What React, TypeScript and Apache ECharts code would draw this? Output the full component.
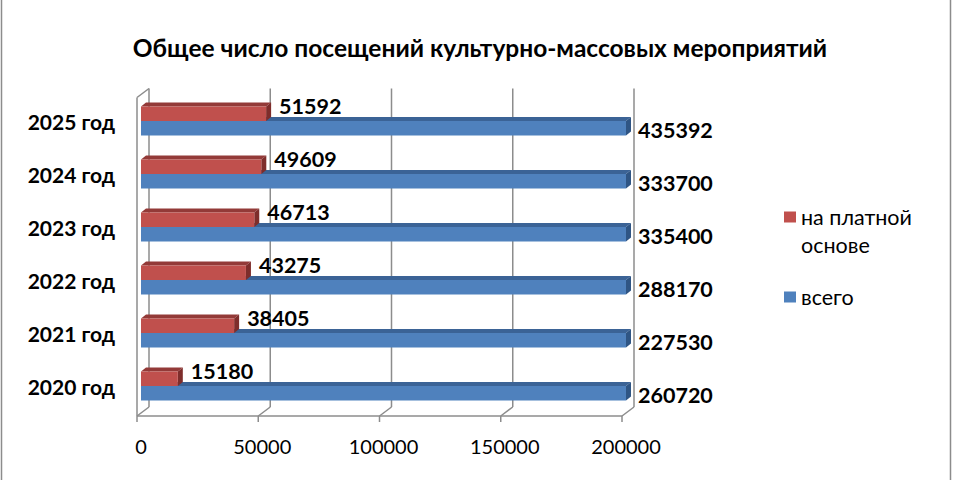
import React, { useEffect, useRef } from "react";
import * as echarts from "echarts";

const titleText = "Общее число посещений культурно-массовых мероприятий";
const categories = ["2020 год", "2021 год", "2022 год", "2023 год", "2024 год", "2025 год"];
const paidValues = [15180, 38405, 43275, 46713, 49609, 51592];
const totalValues = [260720, 227530, 288170, 335400, 333700, 435392];
const xTicks = [0, 50000, 100000, 150000, 200000];
const seriesNames = ["на платной основе", "всего"];

const X_MAX = xTicks[xTicks.length - 1];
const X_STEP = xTicks[1] - xTicks[0];
const FONT = "Lato, 'Noto Sans', sans-serif";

const RED = { front: "#C0504D", top: "#933A38", side: "#7E2D2B" };
const BLUE = { front: "#4F81BD", top: "#3B6396", side: "#2F5584" };

function makeBarRenderer(isUpper: boolean, c: { front: string; top: string; side: string }) {
  return (params: any, api: any) => {
    const v = api.value(0) as number;
    const cat = api.value(1) as number;
    const band = (api.size([0, 1]) as number[])[1];
    const h = band * 0.275;
    const p0 = api.coord([0, cat]);
    const p1 = api.coord([Math.min(v, X_MAX), cat]);
    const x0 = p0[0];
    const cy = p0[1];
    const x1 = p1[0];
    const yTop = isUpper ? cy - h : cy;
    const dx = 5;
    const dy = 4;
    const labelY = isUpper ? yTop : yTop + h / 2 + 1.5;
    const labelX = x1 + dx + (isUpper ? 8 : 7);
    return {
      type: "group",
      children: [
        {
          type: "polygon",
          shape: { points: [[x0, yTop], [x0 + dx, yTop - dy], [x1 + dx, yTop - dy], [x1, yTop]] },
          style: { fill: c.top },
        },
        {
          type: "polygon",
          shape: { points: [[x1, yTop], [x1 + dx, yTop - dy], [x1 + dx, yTop + h - dy], [x1, yTop + h]] },
          style: { fill: c.side },
        },
        {
          type: "rect",
          shape: { x: x0, y: yTop, width: x1 - x0, height: h },
          style: { fill: c.front },
        },
        {
          type: "text",
          style: {
            text: String(v),
            x: labelX,
            y: labelY,
            fill: "#000",
            font: `bold 21.5px ${FONT}`,
            align: "left",
            verticalAlign: "middle",
          },
        },
      ],
    };
  };
}

function frameRenderer(params: any, api: any) {
  const cs = params.coordSys;
  const fx = (v: number) => api.coord([v, 0])[0] - 4;
  const DX = 12;
  const DY = -9;
  const floorF = cs.y + cs.height + 3.5;
  const floorB = floorF + DY;
  const backTop = cs.y - 6;
  const frontTop = backTop - DY;
  const stroke = { stroke: "#8C8C8C", lineWidth: 1.5 };
  const children: any[] = [];
  xTicks.forEach((v) => {
    const x = fx(v);
    children.push({ type: "line", shape: { x1: x + DX, y1: backTop, x2: x + DX, y2: floorB }, style: stroke });
    children.push({ type: "line", shape: { x1: x, y1: floorF, x2: x + DX, y2: floorB }, style: stroke });
    children.push({ type: "line", shape: { x1: x, y1: floorF, x2: x, y2: floorF + 6 }, style: stroke });
  });
  const xl = fx(0);
  const xr = fx(X_MAX);
  children.push({ type: "line", shape: { x1: xl, y1: floorF, x2: xr, y2: floorF }, style: stroke });
  children.push({ type: "line", shape: { x1: xl, y1: frontTop, x2: xl, y2: floorF }, style: stroke });
  children.push({ type: "line", shape: { x1: xl, y1: frontTop, x2: xl + DX, y2: backTop }, style: stroke });
  return { type: "group", children };
}

export default function App() {
  const ref = useRef<HTMLDivElement>(null);
  useEffect(() => {
    if (!ref.current) return;
    const chart = echarts.init(ref.current, undefined, { renderer: "svg" });
    chart.setOption({
      animation: false,
      backgroundColor: "#fff",
      title: {
        text: titleText,
        left: "center",
        top: 30,
        textStyle: { fontFamily: FONT, fontWeight: "bold", fontSize: 24.5, color: "#000" },
      },
      legend: {
        data: [
          { name: seriesNames[0], icon: "rect" },
          { name: seriesNames[1], icon: "rect" },
        ],
        orient: "vertical",
        left: 784,
        top: 175,
        padding: 0,
        itemWidth: 12,
        itemHeight: 11,
        itemGap: 24,
        selectedMode: false,
        formatter: (name: string) => (name === seriesNames[0] ? "\nна платной\nоснове" : name),
        textStyle: { fontFamily: FONT, fontSize: 21.5, color: "#000", lineHeight: 28 },
      },
      grid: { left: 141, right: 334, top: 94.5, bottom: 67.5 },
      xAxis: {
        type: "value",
        min: 0,
        max: X_MAX,
        interval: X_STEP,
        axisLine: { show: false },
        axisTick: { show: false },
        splitLine: { show: false },
        axisLabel: {
          fontFamily: FONT,
          fontSize: 20,
          color: "#000",
          margin: 23,
          formatter: (v: number) => String(v),
        },
      },
      yAxis: {
        type: "category",
        data: categories,
        axisLine: { show: false },
        axisTick: { show: false },
        axisLabel: {
          fontFamily: FONT,
          fontSize: 21,
          fontWeight: "bold",
          color: "#000",
          margin: 26,
          padding: [20, 0, 0, 0],
        },
      },
      graphic: [
        { type: "line", shape: { x1: 1.5, y1: 0, x2: 1.5, y2: 480 }, style: { stroke: "#8C8C8C", lineWidth: 1.5 } },
        { type: "line", shape: { x1: 950.5, y1: 0, x2: 950.5, y2: 480 }, style: { stroke: "#8C8C8C", lineWidth: 1.5 } },
      ],
      series: [
        {
          type: "custom",
          name: "frame",
          renderItem: frameRenderer,
          data: [[0, 0]],
          encode: { x: 0, y: 1 },
          silent: true,
          z: 1,
        },
        {
          type: "custom",
          name: seriesNames[1],
          itemStyle: { color: BLUE.front },
          renderItem: makeBarRenderer(false, BLUE),
          data: totalValues.map((v, i) => [v, i]),
          encode: { x: 0, y: 1 },
          z: 2,
        },
        {
          type: "custom",
          name: seriesNames[0],
          itemStyle: { color: RED.front },
          renderItem: makeBarRenderer(true, RED),
          data: paidValues.map((v, i) => [v, i]),
          encode: { x: 0, y: 1 },
          z: 3,
        },
      ],
    });
    return () => chart.dispose();
  }, []);
  return <div ref={ref} style={{ position: "fixed", left: 0, top: 0, width: 960, height: 480 }} />;
}
